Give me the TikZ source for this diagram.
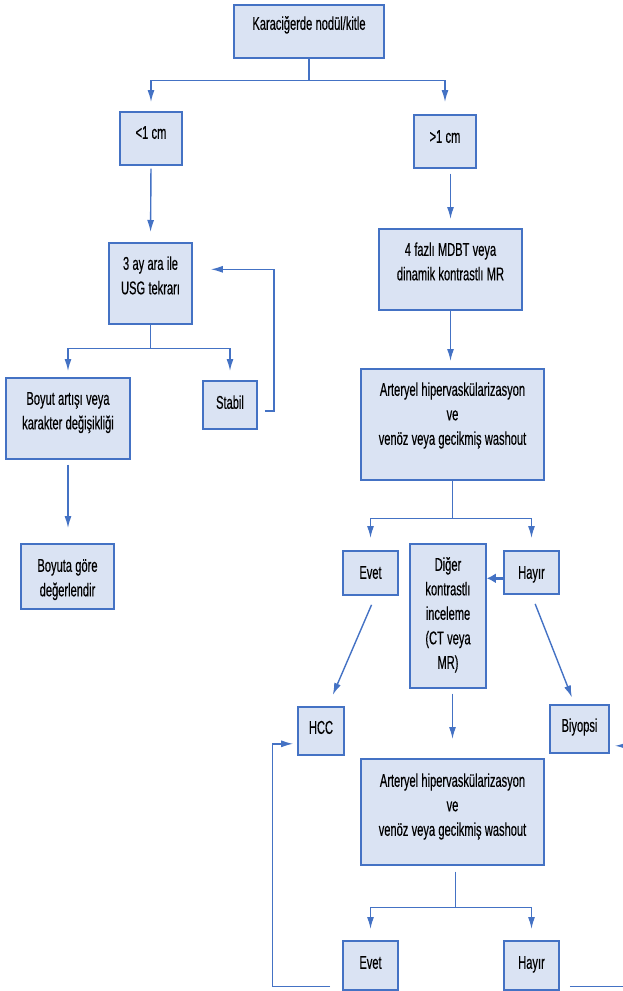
\documentclass[tikz,border=0pt]{standalone}
\usepackage{fontspec}
\setmainfont[FakeStretch=0.6, FakeBold=0.35]{Liberation Sans}
\usetikzlibrary{arrows.meta}

\definecolor{boxfill}{HTML}{DAE3F3}
\definecolor{boxline}{HTML}{4472C4}

\newcommand{\boxfont}{\fontsize{18.5}{24.5}\selectfont\spaceskip=3.3pt\relax}

\tikzset{
	box/.style = {draw = boxline, fill = boxfill, line width = 1.6pt, anchor = north, align = flush center, inner sep = 0pt, font = \boxfont},
	link/.style = {boxline, line width = 1.4pt}
}

\begin{document}
\begin{tikzpicture}[x = 1pt, y = -1pt, > = {Latex[length = 12pt, width = 7pt]}]

	\useasboundingbox (0, 0) rectangle (623, 991);
	\clip (0, 0) rectangle (623, 991);

	% Boxes

	\node [box, text width = 150pt, text height = 25pt, text depth = 28pt] (start) at (309, 4) {Karaciğerde nodül/kitle};

	\node [box, text width = 62pt, text height = 27pt, text depth = 26pt] (lt) at (151, 111) {<1 cm};
	\node [box, text width = 62pt, text height = 28pt, text depth = 25pt] (gt) at (445, 114) {>1 cm};

	\node [box, text width = 83pt, text height = 27pt, text depth = 54pt] (usg) at (150.5, 242) {3 ay ara ile\\USG tekrarı};
	\node [box, text width = 143pt, text height = 27pt, text depth = 54pt] (mdbt) at (450.5, 228) {4 fazlı MDBT veya\\dinamik kontrastlı MR};

	\node [box, text width = 124pt, text height = 27pt, text depth = 54pt] (boyut) at (68, 377) {Boyut artışı veya\\karakter değişikliği};
	\node [box, text width = 54pt, text height = 28pt, text depth = 20pt] (stabil) at (230, 380) {Stabil};
	\node [box, text width = 93pt, text height = 28pt, text depth = 37pt] (boyuta) at (67.5, 543) {Boyuta göre\\değerlendir};

	\node [box, text width = 183pt, text height = 27pt, text depth = 84pt] (art1) at (452.5, 368) {Arteryel hipervaskülarizasyon\\ve\\venöz veya gecikmiş washout};

	\node [box, text width = 55pt, text height = 28pt, text depth = 16pt] (evet) at (370.5, 550) {Evet};
	\node [box, text width = 76pt, text height = 27pt, text depth = 117pt] (diger) at (448, 543) {Diğer\\kontrastlı\\inceleme\\(CT veya\\MR)};
	\node [box, text width = 55pt, text height = 28pt, text depth = 15pt] (hayir) at (531.5, 550) {Hayır};

	\node [box, text width = 46pt, text height = 27pt, text depth = 21pt] (hcc) at (321, 706) {HCC};
	\node [box, text width = 59pt, text height = 27pt, text depth = 21pt] (biyopsi) at (579.5, 704) {Biyopsi};

	\node [box, text width = 183pt, text height = 28pt, text depth = 78pt] (art2) at (452.5, 758) {Arteryel hipervaskülarizasyon\\ve\\venöz veya gecikmiş washout};

	\node [box, text width = 55pt, text height = 28pt, text depth = 21pt] (evet2) at (370.5, 940) {Evet};
	\node [box, text width = 55pt, text height = 28pt, text depth = 21pt] (hayir2) at (531.5, 940) {Hayır};

	% Arrows

	\draw [link] (start.south) -- ++(0, 22) coordinate (split1);
	\draw [link, ->, shorten >= 9pt] (split1) -| (lt.north);
	\draw [link, ->, shorten >= 12pt] (split1) -| (gt.north);

	\draw [link, ->, shorten <= 3pt, shorten >= 10pt] (lt.south) -- (usg.north);
	\draw [link, ->, shorten <= 5pt, shorten >= 9pt] (gt.south -| mdbt.north) -- (mdbt.north);

	\draw [link] (usg.south) -- ++(0, 24) coordinate (split2);
	\draw [link, ->, shorten >= 6pt] (split2) -| (boyut.north);
	\draw [link, ->, shorten >= 9pt] (split2) -| (stabil.north);

	\draw [link, ->, shorten <= 7pt, shorten >= 18pt] ([yshift = -6pt] stabil.east) -- ++(16, 0) |- ([yshift = 14pt] usg.east);

	\draw [link, ->, shorten <= 5pt, shorten >= 15pt] (boyut.south) -- (boyut.south |- boyuta.north);

	\draw [link, ->, shorten >= 7pt] (mdbt.south) -- (mdbt.south |- art1.north);

	\draw [link] (art1.south) -- ++(0, 38) coordinate (split3);
	\draw [link, ->, shorten >= 12pt] (split3) -| (evet.north);
	\draw [link, ->, shorten >= 12pt] (split3) -| (hayir.north);

	\draw [link, line width = 2.6pt, -{Latex[length = 9pt, width = 10pt]}] ([yshift = -6pt] hayir.west) -- ([yshift = -6pt] hayir.west -| diger.east);

	\draw [link, ->, shorten <= 10pt, shorten >= 12pt] ([xshift = 5pt] evet.south) -- ([xshift = 7pt] hcc.north);
	\draw [link, ->, shorten <= 10pt, shorten >= 7pt] (hayir.south) -- ([xshift = -5pt] biyopsi.north);

	\draw [link, ->, shorten <= 5pt, shorten >= 19pt] (diger.south -| art2.north) -- (art2.north);

	\draw [link, shorten <= 6pt] ([xshift = 3pt] art2.south) -- ++(0, 42) coordinate (split4);
	\draw [link, ->, shorten >= 11pt] (split4) -| (evet2.north);
	\draw [link, ->, shorten >= 11pt] (split4) -| (hayir2.north);

	\draw [link, ->, shorten <= 12pt, shorten >= 4pt] ([yshift = -21pt] evet2.west) -- ++(-70, 0) |- ([yshift = -13pt] hcc.west);
	\draw [link, ->, shorten <= 10pt, shorten >= 5pt] ([yshift = -21pt] hayir2.east) -- ++(70, 0) |- ([yshift = -17pt] biyopsi.east);

\end{tikzpicture}
\end{document}
